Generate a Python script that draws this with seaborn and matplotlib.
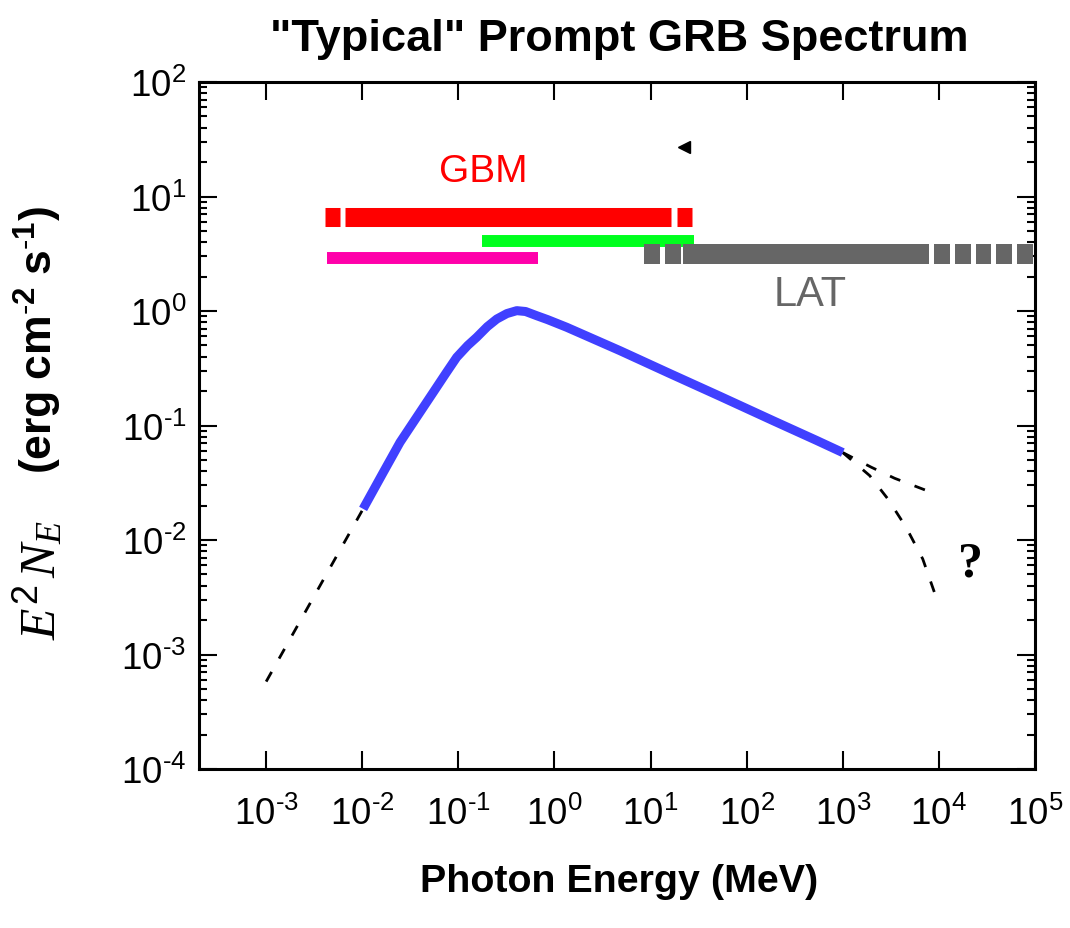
import numpy as np
import pandas as pd
import matplotlib
matplotlib.use("Agg")
import matplotlib.pyplot as plt
from matplotlib.ticker import LogLocator, NullLocator, FuncFormatter
import seaborn as sns

# ---------------- data ----------------
# main measured spectrum (MeV, erg cm^-2 s^-1)
curve_E = [0.0102, 0.01655, 0.0247, 0.0368, 0.0548, 0.075, 0.096, 0.125, 0.155, 0.2,
           0.251, 0.32, 0.405, 0.5, 0.653, 0.85, 1.34, 4.81, 15.9, 52.7, 189, 535, 1000]
curve_F = [0.0187, 0.039, 0.0713, 0.118, 0.195, 0.29, 0.394, 0.50, 0.589, 0.73,
           0.851, 0.95, 1.007, 0.99, 0.91, 0.84, 0.721, 0.45, 0.284, 0.18, 0.11, 0.074, 0.058]

# dashed extrapolations
low_E = [0.001, 0.0102]
low_F = [5.8e-4, 0.0187]
hi1_E = [1000, 1980, 3460, 7650]
hi1_F = [0.058, 0.0432, 0.0346, 0.0268]
hi2_E = [1000, 1905, 2950, 4560, 6790, 9730]
hi2_F = [0.058, 0.0365, 0.0228, 0.0129, 0.00683, 0.00288]

# instrument energy-range bars: (start, end) segments, level
gbm_segments = [(0.00406, 0.00586), (0.00665, 16.3), (18.7, 27.2)]
gbm_level = 6.56
bgo_segments = [(0.175, 28.6)]
bgo_level = 4.10
nai_segments = [(0.00427, 0.673)]
nai_level = 2.92
lat_segments = [(8.59, 12.5), (14.2, 20.7), (21.9, 7890), (8960, 13000),
                (14700, 21400), (24100, 35100), (39500, 57600), (65500, 94600)]
lat_level = 3.16

x_ticks = [1e-3, 1e-2, 1e-1, 1e0, 1e1, 1e2, 1e3, 1e4, 1e5]
y_ticks = [1e-4, 1e-3, 1e-2, 1e-1, 1e0, 1e1, 1e2]

# ---------------- style ----------------
sns.set_theme(style="ticks", rc={"text.color": "black", "axes.labelcolor": "black",
                                 "xtick.color": "black", "ytick.color": "black",
                                 "axes.edgecolor": "black"})
sans = ["Liberation Sans Narrow", "Liberation Sans", "DejaVu Sans"]
plt.rcParams["font.family"] = sans
plt.rcParams["mathtext.fontset"] = "custom"
plt.rcParams["mathtext.rm"] = "Liberation Sans"
plt.rcParams["mathtext.sf"] = "Liberation Sans"
plt.rcParams["mathtext.it"] = "Liberation Serif:italic"
plt.rcParams["mathtext.bf"] = "Liberation Sans:bold"

W, H = 1070, 929
fig = plt.figure(figsize=(W / 100, H / 100), dpi=100)
ax = fig.add_axes([199 / W, 1 - 770 / H, 836 / W, 687 / H])

ax.set_xscale("log")
ax.set_yscale("log")
ax.set_xlim(2e-4, 1e5)
ax.set_ylim(1e-4, 1e2)

# bars
def bars(segs, level, color, lw):
    for a, b in segs:
        ax.hlines(level, a, b, colors=color, linewidth=lw, capstyle="butt")

bars(gbm_segments, gbm_level, "#ff0000", 13.7)
bars(bgo_segments, bgo_level, "#00ff1e", 8.6)
bars(nai_segments, nai_level, "#ff00aa", 8.6)
bars(lat_segments, lat_level, "#666666", 14.4)

# dashed extrapolations
dash = (0, (4, 5.5))
for E, F in [(low_E, low_F), (hi1_E, hi1_F), (hi2_E, hi2_F)]:
    sns.lineplot(x=E, y=F, ax=ax, color="black", linewidth=2.0,
                 linestyle=dash, sort=False, errorbar=None)

# main spectrum
df = pd.DataFrame({"E": curve_E, "F": curve_F})
sns.lineplot(data=df, x="E", y="F", ax=ax, color="#4040ff", linewidth=6.5,
             errorbar=None, solid_capstyle="butt", solid_joinstyle="round")
ax.set_xlabel("")
ax.set_ylabel("")

# annotations
ax.text(0.18, 16.7, "GBM", color="#ff0000", fontsize=28, ha="center",
        va="center", family=sans)
ax.text(456, 1.41, "LAT", color="#666666", fontsize=30, ha="center",
        va="center", family=sans)
ax.text(21100, 0.0062, "?", color="black", fontsize=36, ha="center",
        va="center", family=["Liberation Serif", "DejaVu Serif"], fontweight="bold")
ax.plot([22.3], [27], marker="<", color="black", markersize=9, linestyle="none")

# axes / ticks
for s in ax.spines.values():
    s.set_linewidth(2.2)
    s.set_color("black")
    s.set_visible(True)

ax.xaxis.set_minor_locator(NullLocator())
ax.yaxis.set_minor_locator(LogLocator(base=10, subs=np.arange(2, 10), numticks=20))
ax.set_xticks(x_ticks)
ax.set_yticks(y_ticks)
fmt = FuncFormatter(lambda v, p: r"$\mathrm{10^{\text{-}%d}}$" % abs(int(round(np.log10(v))))
                    if v < 1 else r"$\mathrm{10^{%d}}$" % int(round(np.log10(v))))
ax.xaxis.set_major_formatter(fmt)
ax.yaxis.set_major_formatter(fmt)

ax.tick_params(which="both", direction="in", top=True, right=True,
               color="black", width=1.5, labelcolor="black")
ax.tick_params(which="major", length=13, labelsize=26.5)
ax.tick_params(which="minor", length=5.8)
ax.tick_params(axis="x", which="major", pad=19)
ax.tick_params(axis="y", which="major", pad=9)
ax.grid(False)

# titles & labels
fig.text(619 / W, 1 - 40 / H, "\"Typical\" Prompt GRB Spectrum", ha="center",
         va="center", fontsize=32.5, fontweight="bold", family=sans, color="black")
fig.text(619 / W, 1 - 882 / H, "Photon Energy (MeV)", ha="center", va="center",
         fontsize=28.4, fontweight="bold", family=sans, color="black")
fig.text(40 / W, 1 - 580 / H, r"$E^2\,N_E$",
         rotation=90, ha="center", va="center", fontsize=37, color="black")
fig.text(38 / W, 1 - 340 / H, r"$\mathbf{(erg\ cm^{\text{-}2}\ s^{\text{-}1})}$",
         rotation=90, ha="center", va="center", fontsize=32, color="black")

fig.savefig("out.png", dpi=100, facecolor="white")
